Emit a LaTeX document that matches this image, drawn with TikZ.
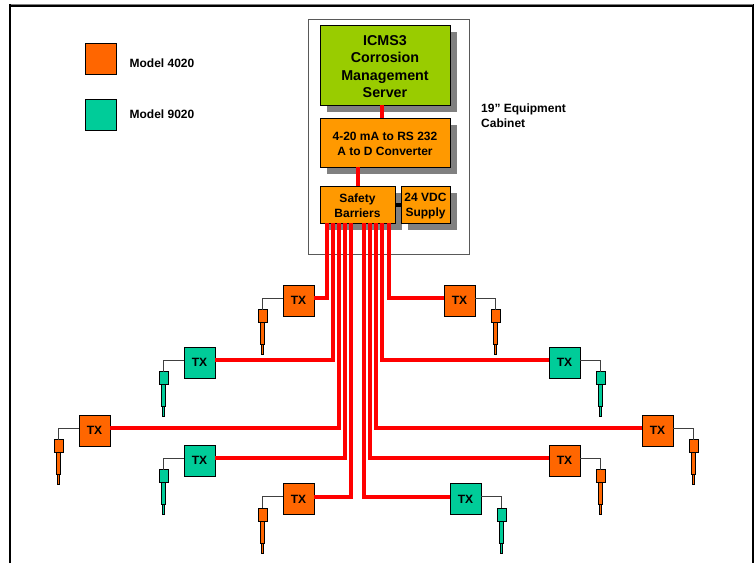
\documentclass[tikz,border=0pt]{standalone}
\usepackage{fontspec}
\setmainfont{Liberation Sans}
\usepackage{tikz}
\usetikzlibrary{calc}
\usetikzlibrary{positioning}
\usetikzlibrary{shadows}
\definecolor{txorange}{HTML}{FF6600}
\definecolor{txteal}{HTML}{00CC99}
\definecolor{unitorange}{HTML}{FF9900}
\definecolor{servergreen}{HTML}{99CC00}
\tikzset{
  unit/.style={draw=black, line width=0.9pt, inner sep=0pt, align=center, text=black,
    font=\fontsize{12}{15}\selectfont\bfseries,
    drop shadow={shadow xshift=6.5pt, shadow yshift=-6.5pt, opacity=1, fill=black!50}},
  txbox/.style={draw=black, line width=0.9pt, inner sep=0pt, minimum size=31pt,
    font=\fontsize{12}{14}\selectfont\bfseries},
  label/.style={inner sep=0pt, align=left, font=\fontsize{12}{15}\selectfont\bfseries},
  signal/.style={draw=red, line width=4pt},
  wire/.style={draw=black!75, line width=1pt},
  probehead/.style={draw=black, line width=0.7pt, inner sep=0pt, outer sep=0pt, minimum width=9pt, minimum height=13pt, anchor=north},
  probebody/.style={draw=black, line width=0.7pt, inner sep=0pt, outer sep=0pt, minimum width=4.5pt, minimum height=22pt, below=0pt of #1},
  probetip/.style={draw=black, line width=0.7pt, inner sep=0pt, outer sep=0pt, minimum width=2.4pt, minimum height=10pt, below=0pt of #1},
}
% probe hanging off a TX box: box name, side, offset, colour
\newcommand{\probe}[4]{
  \node[probehead, fill=#4] (#1head) at ($(#1.#2)+(#3,9)$) {};
  \node[probebody=#1head, fill=#4] (#1body) {};
  \node[probetip=#1body, fill=#4] (#1tip) {};
  \draw[wire] ([yshift=2.5pt]#1.#2) -| (#1head.north);
}
\begin{document}
\begin{tikzpicture}[x=1pt, y=-1pt]
\useasboundingbox (0,0) rectangle (754,563);

% page frame
\draw[line width=2.2pt] (10,563) -- (10,5.5) -- (753,5.5) -- (753,563);
\draw[black!50, line width=1pt] (11,4.5) -- (753,4.5);

% legend
\node[draw=black, line width=0.9pt, fill=txorange, minimum size=31pt, inner sep=0pt] (key4020) at (100.5,59) {};
\node[draw=black, line width=0.9pt, fill=txteal, minimum size=31pt, inner sep=0pt] (key9020) at (100.5,114.5) {};
\node[label, right=13pt of key4020, yshift=-4.5pt] (model4020) {Model 4020};
\node[label, right=13pt of key9020] (model9020) {Model 9020};

% cabinet
\node[draw=black!65, line width=1pt, fill=white, minimum width=161pt, minimum height=235pt, inner sep=0pt] (cabinet) at (388.5,136.5) {};
\node[label, anchor=west] (cabinetlabel) at (481,115.5) {19” Equipment\\Cabinet};

\node[unit, fill=servergreen, minimum width=130pt, minimum height=80pt, font=\fontsize{14.3}{17.4}\selectfont\bfseries] (server) at (385,65) {\rule{0pt}{13.3pt}ICMS3\\Corrosion\\Management\\Server};
\node[unit, fill=unitorange, minimum width=130pt, minimum height=49pt] (converter) at (385,142.5) {\rule{0pt}{11.6pt}4-20 mA to RS 232\\A to D Converter};
\node[unit, fill=unitorange, minimum width=75pt, minimum height=37pt] (barriers) at (357.5,204.5) {\rule{0pt}{11.6pt}Safety\\Barriers};
\node[unit, fill=unitorange, minimum width=49pt, minimum height=37pt] (supply) at (425.5,204.5) {\rule{0pt}{11.6pt}24 VDC\\Supply};

\draw[signal] ([xshift=-3pt]server.south) -- ([xshift=-3pt]converter.north);
\draw[signal] (barriers.north) -- (barriers.north |- converter.south);
\draw[line width=4pt] (barriers.east) -- (supply.west);

% transmitters, left side
\node[txbox, fill=txorange] (txa) at (298.5,300.5) {TX};
\node[txbox, fill=txteal] (txb) at (199.5,362.5) {TX};
\node[txbox, fill=txorange] (txc) at (94.5,430.5) {TX};
\node[txbox, fill=txteal] (txd) at (199.5,460.5) {TX};
\node[txbox, fill=txorange] (txe) at (298.5,499) {TX};

% transmitters, right side
\node[txbox, fill=txorange] (txf) at (459.5,300.5) {TX};
\node[txbox, fill=txteal] (txg) at (564.5,362.5) {TX};
\node[txbox, fill=txorange] (txh) at (657.5,430.5) {TX};
\node[txbox, fill=txorange] (txi) at (564.5,460.5) {TX};
\node[txbox, fill=txteal] (txj) at (465.5,499) {TX};

\draw[signal] ([xshift=-30.5pt]barriers.south) |- ([yshift=2.5pt]txa.east);
\draw[signal] ([xshift=-24.5pt]barriers.south) |- ([yshift=2.5pt]txb.east);
\draw[signal] ([xshift=-18.5pt]barriers.south) |- ([yshift=2.5pt]txc.east);
\draw[signal] ([xshift=-12.5pt]barriers.south) |- ([yshift=2.5pt]txd.east);
\draw[signal] ([xshift=-6.5pt]barriers.south) |- ([yshift=2.5pt]txe.east);
\draw[signal] ([xshift=6.5pt]barriers.south) |- ([yshift=2.5pt]txj.west);
\draw[signal] ([xshift=12.5pt]barriers.south) |- ([yshift=2.5pt]txi.west);
\draw[signal] ([xshift=18.5pt]barriers.south) |- ([yshift=2.5pt]txh.west);
\draw[signal] ([xshift=24.5pt]barriers.south) |- ([yshift=2.5pt]txg.west);
\draw[signal] ([xshift=31.5pt]barriers.south) |- ([yshift=2.5pt]txf.west);

\probe{txa}{west}{-20}{txorange}
\probe{txb}{west}{-20}{txteal}
\probe{txc}{west}{-20}{txorange}
\probe{txd}{west}{-20}{txteal}
\probe{txe}{west}{-20}{txorange}
\probe{txf}{east}{20}{txorange}
\probe{txg}{east}{20}{txteal}
\probe{txh}{east}{20}{txorange}
\probe{txi}{east}{20}{txorange}
\probe{txj}{east}{20}{txteal}

\end{tikzpicture}
\end{document}
